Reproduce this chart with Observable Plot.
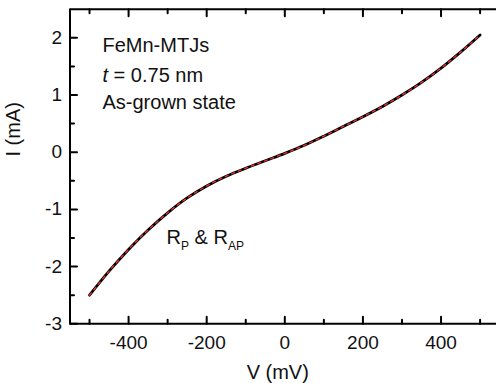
<!DOCTYPE html>
<html><head><meta charset="utf-8">
<script src="https://cdn.jsdelivr.net/npm/d3@7"></script>
<script src="https://cdn.jsdelivr.net/npm/@observablehq/plot@0.6"></script>
<style>body{margin:0;background:#fff;}</style>
</head><body><div id="chart"></div>
<script>
const voltage = [-500,-450,-400,-350,-300,-250,-200,-150,-100,-50,0,50,100,150,200,250,300,350,400,450,500];
const current = [-2.50,-2.08,-1.70,-1.36,-1.06,-0.80,-0.59,-0.42,-0.28,-0.15,-0.02,0.12,0.28,0.45,0.62,0.80,1.00,1.22,1.47,1.75,2.05];
const xTicksMajor = [-400,-200,0,200,400];
const xTickLabels = ["-400","-200","0","200","400"];
const xTicksMinor = [-500,-300,-100,100,300,500];
const yTicksMajor = [-3,-2,-1,0,1,2];
const yTickLabels = ["-3","-2","-1","0","1","2"];
const yTicksMinor = [-2.5,-1.5,-0.5,0.5,1.5];
const notes = ["FeMn-MTJs","t = 0.75 nm","As-grown state"];
const legendText = "RP & RAP";
const xTitle = "V (mV)";
const yTitle = "I (mA)";

const data = voltage.map((v,i)=>({v, i: current[i]}));
const tickShape = {draw(ctx, l){ ctx.moveTo(0,0); ctx.lineTo(0,-l); }};
const ticks = (arr, opts) => Plot.vector(arr, {anchor:"start", shape: tickShape, stroke:"black", strokeWidth:2, ...opts});
const big = {fontSize: 20};

const chart = Plot.plot({
  width: 496, height: 383,
  marginLeft: 69.5, marginRight: 0, marginTop: 8.7, marginBottom: 59.7,
  x: {domain: [-550, 542], axis: null},
  y: {domain: [-3, 2.5], axis: null},
  style: {fontFamily: "'Liberation Sans', Arial, sans-serif", fontSize: "19px", color: "#111", background: "white"},
  marks: [
    Plot.line(data, {x:"v", y:"i", curve:"catmull-rom", stroke:"black", strokeWidth:2.8}),
    Plot.line(data, {x:"v", y:"i", curve:"catmull-rom", stroke:"#e03030", strokeWidth:1.4, strokeDasharray:"3,4"}),
    ticks(xTicksMajor, {x: d=>d, frameAnchor:"bottom", length:7, rotate:0}),
    ticks(xTicksMinor, {x: d=>d, frameAnchor:"bottom", length:4, rotate:0}),
    ticks(xTicksMajor, {x: d=>d, frameAnchor:"top", length:7, rotate:180}),
    ticks(xTicksMinor, {x: d=>d, frameAnchor:"top", length:4, rotate:180}),
    ticks(yTicksMajor, {y: d=>d, frameAnchor:"left", length:7, rotate:90}),
    ticks(yTicksMinor, {y: d=>d, frameAnchor:"left", length:4, rotate:90}),
    Plot.ruleX([-550], {stroke:"black", strokeWidth:2}),
    Plot.ruleY([-3, 2.5], {stroke:"black", strokeWidth:2}),
    Plot.text(xTicksMajor, {x: d=>d, text: (d,i)=>xTickLabels[i], frameAnchor:"bottom", dy:25, lineAnchor:"bottom"}),
    Plot.text(yTicksMajor, {y: d=>d, text: (d,i)=>yTickLabels[i], frameAnchor:"left", dx:-8, textAnchor:"end"}),
    Plot.text([xTitle], {frameAnchor:"bottom", dx:-5.5, dy:55.5, lineAnchor:"bottom", ...big}),
    Plot.text([yTitle], {frameAnchor:"left", dx:-56, dy:-10, rotate:-90, ...big}),
    Plot.text([notes[0]], {frameAnchor:"top-left", dx:32.5, dy:43, lineAnchor:"bottom", textAnchor:"start", ...big}),
    Plot.text([notes[1]], {frameAnchor:"top-left", dx:32.5, dy:73, lineAnchor:"bottom", textAnchor:"start", ...big}),
    Plot.text([notes[2]], {frameAnchor:"top-left", dx:32.5, dy:99.6, lineAnchor:"bottom", textAnchor:"start", ...big}),
    Plot.text([legendText], {frameAnchor:"top-left", dx:96.5, dy:234.3, lineAnchor:"bottom", textAnchor:"start", ...big})
  ]
});
document.getElementById("chart").appendChild(chart);

d3.select(chart).selectAll("text").each(function(){
  const t = d3.select(this);
  const s = this.textContent;
  if (s === legendText) {
    t.text(null);
    t.append("tspan").text("R");
    t.append("tspan").attr("dy", 6).attr("font-size", 12).text("P");
    t.append("tspan").attr("dy", -6).text(" & R");
    t.append("tspan").attr("dy", 6).attr("font-size", 12).text("AP");
  } else if (s === notes[1]) {
    t.text(null);
    t.append("tspan").attr("font-style", "italic").text("t");
    t.append("tspan").text(" = 0.75 nm");
  }
});
</script>
</body></html>
